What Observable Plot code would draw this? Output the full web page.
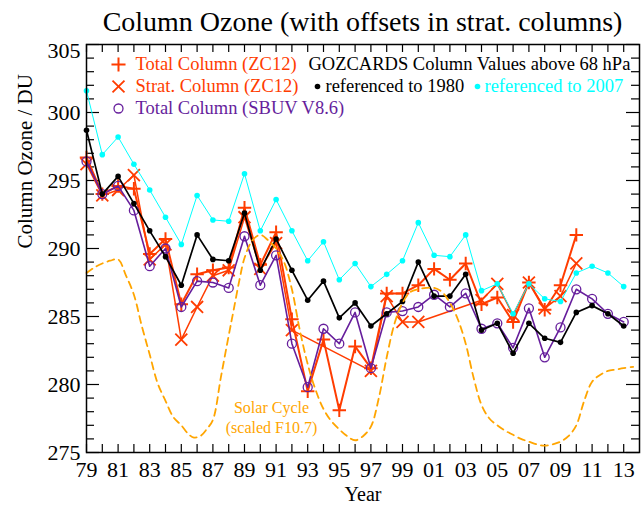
<!DOCTYPE html>
<html><head><meta charset="utf-8">
<script src="https://cdn.jsdelivr.net/npm/d3@7"></script>
<script src="https://cdn.jsdelivr.net/npm/@observablehq/plot@0.6"></script>
<style>
body{margin:0;background:#fff;font-family:"Liberation Serif",serif;}
#wrap{position:relative;width:641px;height:507px;overflow:hidden;}
#title{position:absolute;left:86px;width:553px;top:0;height:40px;text-align:center;font-size:28px;line-height:44px;color:#000;white-space:nowrap;}
#chart{position:absolute;left:0;top:40px;}
</style></head><body>
<div id="wrap"><div id="title">Column Ozone (with offsets in strat. columns)</div><div id="chart"></div></div>
<script>
// ---- data ----
const years = [1979,1980,1981,1982,1983,1984,1985,1986,1987,1988,1989,1990,1991,1992,1993,1994,1995,1996,1997,1998,1999,2000,2001,2002,2003,2004,2005,2006,2007,2008,2009,2010,2011,2012,2013];
// GOZCARDS column above 68 hPa, referenced to 1980 (black)
const gozRef1980 = [298.7,294.0,295.3,293.3,291.3,289.4,287.3,291.0,289.2,289.1,292.6,288.4,290.7,288.4,286.2,287.6,284.9,286.0,284.3,285.2,286.1,289.0,286.5,286.5,288.1,284.0,284.5,282.3,284.5,283.4,283.1,285.3,285.8,285.2,284.3];
// GOZCARDS column above 68 hPa, referenced to 2007 (cyan)
const gozRef2007 = [301.6,296.9,298.2,296.2,294.3,292.3,290.3,293.9,292.1,292.0,295.5,291.3,293.6,291.3,289.1,290.5,287.7,288.9,287.2,288.1,289.1,291.9,289.5,289.4,291.0,286.9,287.4,285.2,287.4,286.3,286.1,288.2,288.7,288.2,287.2];
// Total column SBUV V8.6 (purple open circles)
const sbuvTotal = [296.4,294.0,294.6,292.8,288.7,290.0,285.7,287.6,287.5,287.1,290.9,287.3,289.5,283.0,279.8,284.1,283.0,285.3,281.2,285.3,285.4,285.7,286.6,285.7,286.7,284.1,284.5,282.7,285.6,282.0,284.2,287.0,286.3,285.2,284.6];
// Total column ZC12 (red +), 1979-2010
const zcYears = [1979,1980,1981,1982,1983,1984,1985,1986,1987,1988,1989,1990,1991,1992,1993,1994,1995,1996,1997,1998,1999,2000,2001,2002,2003,2004,2005,2006,2007,2008,2009,2010];
const zcTotal = [296.7,294.0,294.6,294.4,289.6,290.7,285.9,288.1,288.4,288.6,293.0,288.8,291.2,284.8,279.5,283.3,278.1,282.8,281.2,286.7,286.7,287.3,288.5,287.7,288.9,285.9,286.4,284.6,287.5,285.5,287.3,291.0];
// Strat column ZC12 (red x), null = no value
const zcStrat = [296.2,293.9,294.3,295.4,289.2,290.3,283.3,285.7,288.0,288.4,292.3,288.5,290.4,284.0,null,null,null,null,281.0,286.5,284.6,284.6,null,null,null,286.2,287.4,285.1,287.5,285.6,286.5,288.9];
// Solar cycle (scaled F10.7), dashed orange
const solarT = [1979.0,1979.5,1980.0,1980.5,1981.0,1981.5,1982.0,1982.5,1983.0,1983.5,1984.0,1984.5,1985.0,1985.5,1985.8,1986.2,1986.6,1987.0,1987.5,1988.0,1988.3,1988.7,1989.0,1989.5,1990.0,1990.5,1991.0,1991.5,1992.0,1992.5,1993.0,1993.5,1994.0,1994.5,1995.0,1995.5,1996.0,1996.5,1997.0,1997.5,1998.0,1998.5,1999.0,1999.5,2000.0,2000.5,2001.0,2001.5,2002.0,2002.5,2003.0,2003.5,2004.0,2004.5,2005.0,2005.5,2006.0,2006.5,2007.0,2007.5,2008.0,2008.5,2009.0,2009.5,2010.0,2010.5,2011.0,2011.5,2012.0,2012.5,2013.0,2013.6];
const solarV = [288.2,288.6,288.9,289.1,289.2,288.0,286.6,284.3,282.2,280.1,278.8,277.6,277.0,276.3,276.1,276.2,276.7,277.4,280.5,283.6,285.4,287.8,289.3,290.6,291.0,290.6,290.0,289.0,287.0,284.0,281.5,279.6,278.2,277.3,276.7,276.2,275.9,276.2,276.9,279.0,282.0,284.5,286.0,286.8,287.0,287.1,287.1,286.8,286.0,284.8,283.0,280.5,278.5,277.5,277.0,276.6,276.3,276.0,275.8,275.6,275.5,275.6,275.8,276.2,277.0,278.8,280.2,280.7,281.0,281.1,281.2,281.3];
// axis tick labels
const xLabelYears = [1979,1981,1983,1985,1987,1989,1991,1993,1995,1997,1999,2001,2003,2005,2007,2009,2011,2013];
const xTickLabels = ["79","81","83","85","87","89","91","93","95","97","99","01","03","05","07","09","11","13"];
const yTickLabels = [275,280,285,290,295,300,305];
const yMinorTicks = [275,276,277,278,279,280,281,282,283,284,285,286,287,288,289,290,291,292,293,294,295,296,297,298,299,300,301,302,303,304,305];

// ---- layout ----
const W = 641, H = 467, mL = 86, mR = 2, mT = 4, mB = 55;
const xDom = [1979, 2014], yDom = [275, 305];
const pxX = (W - mL - mR) / (xDom[1] - xDom[0]);
const pxY = (H - mT - mB) / (yDom[1] - yDom[0]);
const fx = px => xDom[0] + px / pxX;      // frame-relative pixel -> year
const fy = py => yDom[1] - py / pxY;      // frame-relative pixel -> DU

const RED = "#ff3c00", PURPLE = "#661e9c", CYAN = "#00ffff", ORANGE = "#ffa500";

const black = years.map((t, i) => ({t, v: gozRef1980[i]}));
const cyan = years.map((t, i) => ({t, v: gozRef2007[i]}));
const purple = years.map((t, i) => ({t, v: sbuvTotal[i]}));
const tot = zcYears.map((t, i) => ({t, v: zcTotal[i]}));
const strat = zcYears.map((t, i) => ({t, v: zcStrat[i]})).filter(d => d.v != null);
const solar = solarT.map((t, i) => ({t, v: solarV[i]}));

const fontFam = '"Liberation Serif", "Times New Roman", serif';
const legendText = (s, px, py, fill) => Plot.text([s], {x: fx(px), y: fy(py), textAnchor: "start", fill, fontSize: 18.5, fontFamily: fontFam});
const majorLen = d => (d % 5 === 0 ? 13 : 8);

const chart = Plot.plot({
  width: W, height: H, marginLeft: mL, marginRight: mR, marginTop: mT, marginBottom: mB,
  x: {domain: xDom}, y: {domain: yDom, axis: null},
  style: {fontFamily: fontFam, fontSize: "22px", background: "white", color: "black", overflow: "visible"},
  marks: [
    // ticks inward
    Plot.ruleX(years, {x: d => d, y1: yDom[0], y2: yDom[0] + 8 / pxY, stroke: "black", strokeWidth: 1.2}),
    Plot.ruleX(years, {x: d => d, y1: yDom[1], y2: yDom[1] - 8 / pxY, stroke: "black", strokeWidth: 1.2}),
    Plot.ruleY(yMinorTicks, {y: d => d, x1: xDom[0], x2: d => xDom[0] + majorLen(d) / pxX, stroke: "black", strokeWidth: 1.2}),
    Plot.ruleY(yMinorTicks, {y: d => d, x1: xDom[1], x2: d => xDom[1] - majorLen(d) / pxX, stroke: "black", strokeWidth: 1.2}),
    Plot.axisX({ticks: xLabelYears, tickFormat: d => xTickLabels[xLabelYears.indexOf(d)], tickSize: 0, tickPadding: 9, label: null, fontSize: 22}),
    // y tick labels (top label sits just inside the frame)
    Plot.text(yTickLabels, {x: xDom[0], y: d => (d === yDom[1] ? d - 6 / pxY : d), text: d => String(d), textAnchor: "end", dx: -6, fontSize: 22}),
    Plot.text(["Year"], {frameAnchor: "bottom", dy: 48, fontSize: 20}),
    Plot.text(["Column Ozone / DU"], {frameAnchor: "left", rotate: -90, dx: -61, fontSize: 21}),
    // series
    Plot.line(tot, {x: "t", y: "v", stroke: RED, strokeWidth: 2}),
    Plot.dot(tot, {x: "t", y: "v", symbol: "plus", r: 4.4, stroke: RED, strokeWidth: 2}),
    Plot.line(strat, {x: "t", y: "v", stroke: RED, strokeWidth: 1.5}),
    Plot.dot(strat, {x: "t", y: "v", symbol: "times", r: 5.5, stroke: RED, strokeWidth: 1.8}),
    Plot.line(purple, {x: "t", y: "v", stroke: PURPLE, strokeWidth: 1.6}),
    Plot.dot(purple, {x: "t", y: "v", r: 4.5, stroke: PURPLE, strokeWidth: 1.3, fill: "none"}),
    Plot.line(black, {x: "t", y: "v", stroke: "black", strokeWidth: 1.7}),
    Plot.dot(black, {x: "t", y: "v", r: 2.8, fill: "black"}),
    Plot.line(cyan, {x: "t", y: "v", stroke: CYAN, strokeWidth: 1}),
    Plot.dot(cyan, {x: "t", y: "v", r: 2.8, fill: CYAN}),
    Plot.line(solar, {x: "t", y: "v", stroke: ORANGE, strokeWidth: 1.8, strokeDasharray: "7,5", curve: "catmull-rom"}),
    Plot.text(["Solar Cycle", "(scaled F10.7)"], {x: fx(185), y: (d, i) => fy(363 + 20 * i), fill: ORANGE, fontSize: 16}),
    // legend
    Plot.dot([0], {x: fx(32), y: fy(20), symbol: "plus", r: 4.6, stroke: RED, strokeWidth: 2}),
    legendText("Total Column (ZC12)", 49, 20, RED),
    Plot.dot([0], {x: fx(32), y: fy(42), symbol: "times", r: 5.5, stroke: RED, strokeWidth: 1.8}),
    legendText("Strat. Column (ZC12)", 49, 42, RED),
    Plot.dot([0], {x: fx(32), y: fy(64), r: 4.5, stroke: PURPLE, strokeWidth: 1.3, fill: "none"}),
    legendText("Total Column (SBUV V8.6)", 49, 64, PURPLE),
    legendText("GOZCARDS Column Values above 68 hPa", 222, 20, "black"),
    Plot.dot([0], {x: fx(231), y: fy(42), r: 2.8, fill: "black"}),
    legendText("referenced to 1980", 239, 42, "black"),
    Plot.dot([0], {x: fx(391), y: fy(42), r: 2.8, fill: CYAN}),
    legendText("referenced to 2007", 398, 42, CYAN),
    Plot.frame({stroke: "black", strokeWidth: 1.5})
  ]
});
document.getElementById("chart").appendChild(chart);
</script>
</body></html>
